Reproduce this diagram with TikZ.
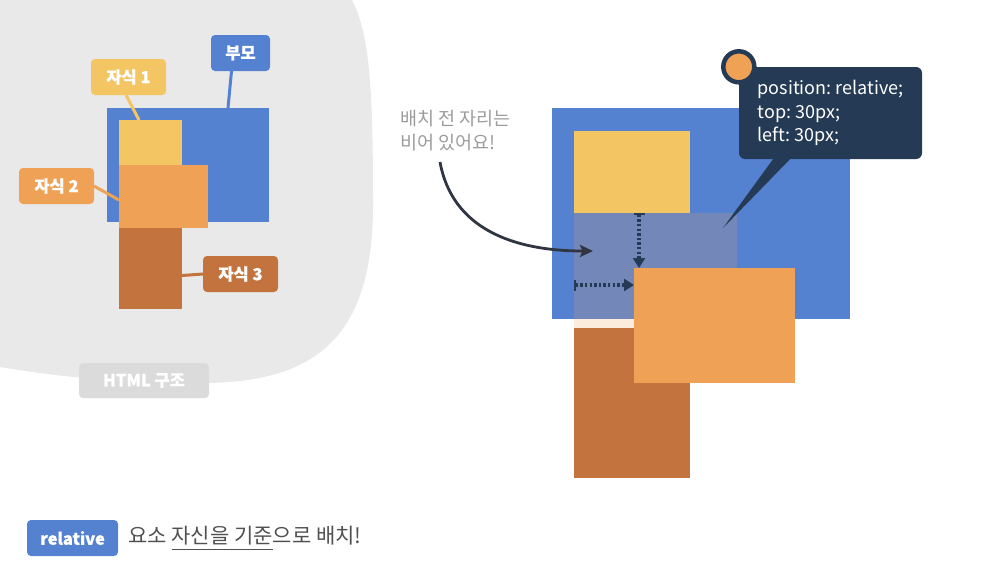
\documentclass[tikz,border=0pt]{standalone}
\usepackage{fontspec}
\setmainfont{Noto Sans CJK KR}[BoldFeatures={FakeBold=0.7}]
\usetikzlibrary{arrows.meta}

\definecolor{boxblue}{HTML}{5581D1}
\definecolor{boxyellow}{HTML}{F4C563}
\definecolor{boxorange}{HTML}{EFA255}
\definecolor{boxbrown}{HTML}{C3743E}
\definecolor{tipnavy}{HTML}{253A54}
\definecolor{blobgray}{HTML}{E9E9E9}
\definecolor{notegray}{HTML}{9C9C9C}
\definecolor{textgray}{HTML}{505050}
\definecolor{curvegray}{HTML}{2F3541}

\newcommand{\ulinetext}[1]{\setbox0\hbox{#1}\rlap{\textcolor{textgray}{\rule[-6.5pt]{\wd0}{1.4pt}}}\box0}

\begin{document}
\frenchspacing
\begin{tikzpicture}[x=1pt, y=-1pt,
		blk/.style={rectangle, inner sep=0pt, outer sep=0pt},
		tag/.style={rectangle, rounded corners=4pt, inner sep=0pt, outer sep=0pt,
			minimum width=75pt, minimum height=36pt, text=white, font=\bfseries\fontsize{16.5}{18}\selectfont},
		tie/.style={line width=3pt},
		offset/.style={tipnavy, line width=3.2pt, dash pattern=on 2.4pt off 2.2pt,
			{Bar[width=11pt,line width=2.4pt]}-{Triangle[width=12pt,length=10pt]}}]
	\useasboundingbox (0,0) rectangle (995,571);

	% left: html structure
	\fill[blobgray]	(0,0) -- (352,0) .. controls (370,35) and (373,90) .. (373,205)
					.. controls (373,335) and (318,382) .. (205,383)
					.. controls (120,383) and (60,377) .. (0,367) -- cycle;

	\node[blk, fill=boxblue, minimum width=162pt, minimum height=114pt] (parent) at (188,165) {};
	\node[blk, fill=boxyellow, minimum width=63pt, minimum height=45pt] (childone) at (150.5,142.5) {};
	\node[blk, fill=boxbrown, minimum width=63pt, minimum height=81pt] (childthree) at (150.5,268.5) {};
	\node[blk, fill=boxorange, minimum width=89pt, minimum height=63pt] (childtwo) at (163.5,196.5) {};

	\node[tag, fill=boxblue, minimum width=59pt] (lblparent) at (240.5,53) {부모};
	\node[tag, fill=boxyellow] (lblone) at (128.5,77) {자식 1};
	\node[tag, fill=boxorange] (lbltwo) at (56.5,186) {자식 2};
	\node[tag, fill=boxbrown] (lblthree) at (240.5,274) {자식 3};

	\draw[tie, boxblue]	([xshift=-9pt]lblparent.south) -- ([xshift=40pt]parent.north);
	\draw[tie, boxyellow]	([xshift=-2.5pt]lblone.south) -- ([xshift=-11.5pt]childone.north);
	\draw[tie, boxorange]	(lbltwo.east) -- ([yshift=-3.5pt]childtwo.west);
	\draw[tie, boxbrown]	([yshift=-7pt]childthree.east) -- (lblthree.west);

	\node[tag, fill=black!14, minimum width=130pt, minimum height=35pt] (html) at (144,380.5) {HTML 구조};

	% right: relative position
	\node[blk, fill=boxblue, minimum width=298pt, minimum height=211pt] (rparent) at (701,213.5) {};
	\node[blk, fill=boxyellow, minimum width=116pt, minimum height=82pt] (ryellow) at (632,172) {};
	\node[blk, fill=boxorange, fill opacity=0.2, minimum width=163pt, minimum height=115pt] (ghost) at (655.5,270.5) {};
	\node[blk, fill=boxbrown, minimum width=116pt, minimum height=150pt] (rbrown) at (632,403) {};
	\node[blk, fill=boxorange, minimum width=161pt, minimum height=115pt] (rorange) at (714.5,325.5) {};

	\coordinate (dotH) at ([yshift=-17pt]rorange.north west);
	\draw[offset]	([xshift=7pt]ryellow.south) -- ([xshift=5pt]rorange.north west);
	\draw[offset]	(ghost.west |- dotH) -- (dotH);

	\node[rectangle, rounded corners=6pt, fill=tipnavy, minimum width=183pt, minimum height=92pt,
		align=left, inner sep=0pt, text=white,
		font=\fontsize{18}{23.5}\selectfont] (tip) at (830.5,113)
		{position: relative;\\top: 30px;\\left: 30px;};
	\coordinate (pointtip) at (723,228);
	\fill[tipnavy]	([xshift=-57.5pt]tip.south) -- ([xshift=-40.5pt]tip.south) -- (pointtip) -- cycle;
	\node[circle, fill=boxorange, draw=tipnavy, line width=4.5pt, minimum size=31pt, inner sep=0pt] (dot) at (tip.north west) {};

	\node[anchor=north west, inner sep=0pt, align=left, text=notegray,
		font=\fontsize{18.5}{23.5}\selectfont] (note) at (400,110) {배치 전 자리는\\비어 있어요!};
	\coordinate (curvestart) at (440,162);
	\draw[line width=2.8pt, curvegray, -{Stealth[length=13pt,width=12pt,inset=2.5pt]}]
		(curvestart) .. controls (452,228) and (512,251) .. ([xshift=19pt,yshift=-38pt]ghost.north west);

	% bottom line
	\node[tag, fill=boxblue, minimum width=91pt, minimum height=36pt] (relbox) at (72.5,538) {relative};
	\node[anchor=west, inner sep=0pt, text=textgray, font=\fontsize{21}{24}\selectfont] (phrase)
		at ([xshift=10pt]relbox.east) {요소 \ulinetext{자신을 기준}으로 배치!};
\end{tikzpicture}
\end{document}
